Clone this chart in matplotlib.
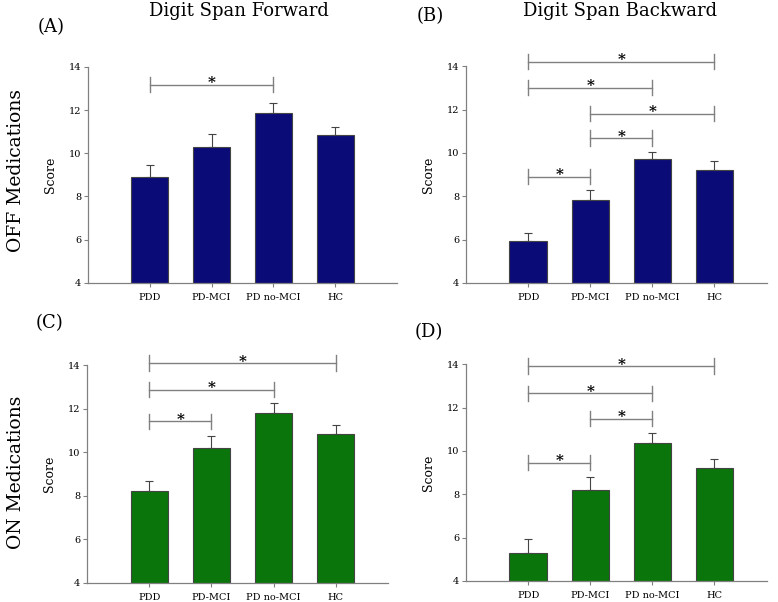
import numpy as np
import matplotlib
matplotlib.use('Agg')
import matplotlib.pyplot as plt

plt.rcParams['font.family'] = ['DejaVu Serif']

groups = ['PDD', 'PD-MCI', 'PD no-MCI', 'HC']

# means and upper error (SEM) per panel
off_fwd = [8.92, 10.29, 11.86, 10.83]
off_fwd_err = [0.55, 0.6, 0.46, 0.4]
off_bwd = [5.93, 7.83, 9.71, 9.2]
off_bwd_err = [0.39, 0.46, 0.35, 0.43]
on_fwd = [8.23, 10.2, 11.78, 10.83]
on_fwd_err = [0.44, 0.56, 0.5, 0.41]
on_bwd = [5.29, 8.19, 10.36, 9.19]
on_bwd_err = [0.63, 0.62, 0.48, 0.45]

# significance brackets: (group i, group j, height)
sig_a = [(0, 2, 13.18)]
sig_b = [(0, 3, 14.2), (0, 2, 13.0), (1, 3, 11.8), (1, 2, 10.69), (0, 1, 8.91)]
sig_c = [(0, 3, 14.09), (0, 2, 12.87), (0, 1, 11.41)]
sig_d = [(0, 3, 13.92), (0, 2, 12.65), (1, 2, 11.48), (0, 1, 9.45)]

navy = '#0b0b78'
green = '#0a750a'
grey = '#808080'

fig = plt.figure(figsize=(7.78, 6.02), dpi=100)

def panel(rect, vals, errs, sigs, color, xmax, letter, lx, ly):
    ax = fig.add_axes(rect)
    x = np.arange(len(groups))
    ax.bar(x, vals, width=0.6, color=color, edgecolor='#444444', linewidth=0.8, zorder=2)
    ax.errorbar(x, vals, yerr=[np.zeros(4), errs], fmt='none', ecolor='#444444',
                elinewidth=0.8, capsize=3, capthick=0.8, zorder=1)
    ax.set_xlim(-1, xmax)
    ax.set_ylim(4, 14)
    ax.set_yticks([4, 6, 8, 10, 12, 14])
    ax.set_xticks(x)
    ax.set_xticklabels(groups)
    ax.tick_params(labelsize=7, length=3, color=grey, width=0.8, pad=2)
    ax.tick_params(axis='x', pad=4)
    for s in ['top', 'right']:
        ax.spines[s].set_visible(False)
    for s in ['left', 'bottom']:
        ax.spines[s].set_color(grey)
        ax.spines[s].set_linewidth(0.9)
    ax.set_ylabel('Score', fontsize=9, labelpad=8)
    for i, j, h in sigs:
        ax.plot([i, j], [h, h], color=grey, lw=1, clip_on=False)
        ax.plot([i, i], [h - 0.35, h + 0.35], color=grey, lw=1, clip_on=False)
        ax.plot([j, j], [h - 0.35, h + 0.35], color=grey, lw=1, clip_on=False)
        ax.text((i + j) / 2, h - 0.12, '*', ha='center', va='baseline', fontsize=11,
                fontweight='bold', clip_on=False)
    fig.text(lx, ly, letter, fontsize=13, ha='left', va='center')
    return ax

panel([0.1131, 0.530, 0.397, 0.359], off_fwd, off_fwd_err, sig_a, navy, 4.0, '(A)', 0.048, 0.955)
panel([0.599, 0.530, 0.387, 0.360], off_bwd, off_bwd_err, sig_b, navy, 3.85, '(B)', 0.536, 0.974)
panel([0.1118, 0.0316, 0.387, 0.362], on_fwd, on_fwd_err, sig_c, green, 3.84, '(C)', 0.046, 0.463)
panel([0.599, 0.035, 0.387, 0.360], on_bwd, on_bwd_err, sig_d, green, 3.85, '(D)', 0.533, 0.449)

fig.text(0.307, 0.982, 'Digit Span Forward', fontsize=13, ha='center', va='center')
fig.text(0.797, 0.982, 'Digit Span Backward', fontsize=13, ha='center', va='center')
fig.text(0.021, 0.717, 'OFF Medications', fontsize=13.5, rotation=90, ha='center', va='center')
fig.text(0.021, 0.216, 'ON Medications', fontsize=13.5, rotation=90, ha='center', va='center')

fig.savefig('out.png', dpi=100)
